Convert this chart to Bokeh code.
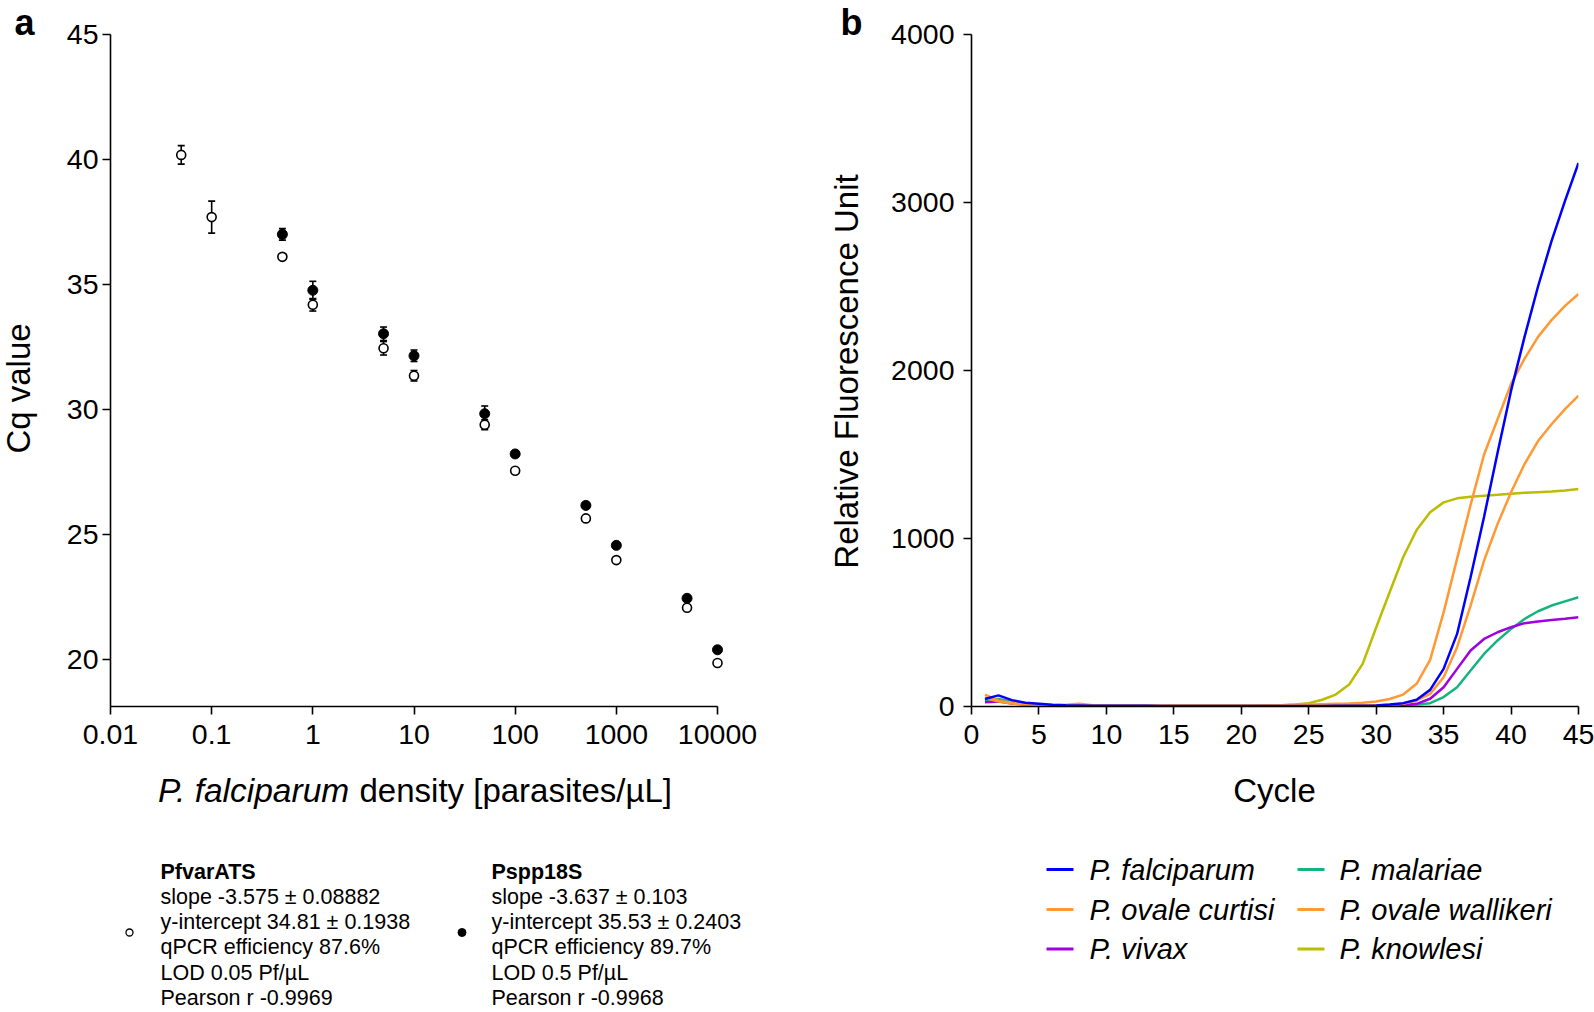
import math
from bokeh.plotting import figure
from bokeh.layouts import column, row
from bokeh.models import ColumnDataSource, Whisker, TeeHead, FixedTicker, Range1d
from bokeh.embed import file_html
from bokeh.resources import INLINE
from bokeh.core.properties import value

FONT = "Liberation Sans"

# ---------------- Panel a data ----------------
density_varats = [0.05, 0.1, 0.5, 1, 5, 10, 50, 100, 500, 1000, 5000, 10000]
pfvarats_cq = [40.18, 37.69, 36.10, 34.18, 32.44, 31.34, 29.38, 27.54, 25.63, 23.96, 22.05, 19.84]
pfvarats_sd = [0.37, 0.64, 0.12, 0.25, 0.27, 0.21, 0.20, 0.10, 0.10, 0.10, 0.10, 0.10]
density_18s = [0.5, 1, 5, 10, 50, 100, 500, 1000, 5000, 10000]
pspp18s_cq = [37.00, 34.76, 33.02, 32.14, 29.82, 28.21, 26.15, 24.55, 22.43, 20.37]
pspp18s_sd = [0.23, 0.36, 0.27, 0.23, 0.31, 0.12, 0.10, 0.10, 0.10, 0.10]
x_ticks_a = [0.01, 0.1, 1, 10, 100, 1000, 10000]
x_tick_labels_a = ["0.01", "0.1", "1", "10", "100", "1000", "10000"]
y_ticks_a = [20, 25, 30, 35, 40, 45]
legend_a_varats = ["slope -3.575 \u00b1 0.08882", "y-intercept 34.81 \u00b1 0.1938",
                   "qPCR efficiency 87.6%", "LOD 0.05 Pf/\u00b5L", "Pearson r -0.9969"]
legend_a_18s = ["slope -3.637 \u00b1 0.103", "y-intercept 35.53 \u00b1 0.2403",
                "qPCR efficiency 89.7%", "LOD 0.5 Pf/\u00b5L", "Pearson r -0.9968"]

# ---------------- Panel b data ----------------
cycles = list(range(1, 46))
falciparum = [45, 66, 38, 22, 16, 10, 7, 6, 5, 5,
              4, 4, 4, 3, 3, 3, 3, 3, 3, 3,
              3, 3, 3, 3, 3, 3, 4, 4, 5, 6,
              12, 20, 40, 99, 224, 432, 769, 1130, 1510, 1880,
              2200, 2500, 2770, 3010, 3235]
ovale_curtisi = [70, 35, 22, 14, 10, 8, 10, 16, 8, 5,
                 4, 4, 4, 4, 4, 4, 4, 5, 5, 5,
                 5, 6, 8, 10, 12, 14, 16, 18, 22, 30,
                 45, 71, 135, 278, 560, 880, 1200, 1500, 1710, 1920,
                 2070, 2200, 2300, 2385, 2455]
ovale_wallikeri = [50, 30, 18, 12, 8, 6, 6, 8, 6, 4,
                   4, 4, 4, 4, 4, 4, 4, 4, 4, 4,
                   4, 4, 5, 5, 5, 6, 6, 6, 7, 8,
                   10, 16, 36, 75, 174, 353, 601, 868, 1086, 1275,
                   1443, 1580, 1680, 1770, 1850]
vivax = [25, 30, 18, 12, 8, 5, 4, 3, 3, 3,
         3, 3, 3, 3, 3, 3, 3, 3, 3, 3,
         3, 3, 3, 3, 3, 3, 3, 4, 4, 5,
         6, 9, 16, 46, 115, 224, 333, 402, 442, 472,
         496, 506, 515, 522, 531]
malariae = [35, 45, 28, 16, 10, 6, 5, 4, 3, 3,
            3, 3, 3, 3, 3, 3, 3, 3, 3, 3,
            3, 3, 3, 3, 3, 3, 3, 3, 4, 4,
            5, 8, 12, 20, 56, 115, 214, 313, 393, 462,
            521, 567, 601, 626, 650]
knowlesi = [40, 35, 20, 12, 8, 5, 4, 3, 3, 3,
            3, 3, 3, 3, 3, 3, 3, 3, 3, 3,
            4, 6, 8, 12, 20, 40, 71, 131, 254, 470,
            680, 888, 1051, 1156, 1215, 1239, 1249, 1255, 1260, 1267,
            1272, 1276, 1280, 1286, 1295]
species_names = ["P. falciparum", "P. ovale curtisi", "P. vivax",
                 "P. malariae", "P. ovale wallikeri", "P. knowlesi"]
species_values = [falciparum, ovale_curtisi, vivax, malariae, ovale_wallikeri, knowlesi]
species_colors = ["#0000ff", "#ff9933", "#a000e0", "#14b47c", "#ff9933", "#bcbc00"]
draw_order = [5, 3, 2, 4, 1, 0]
x_ticks_b = [0, 5, 10, 15, 20, 25, 30, 35, 40, 45]
y_ticks_b = [0, 1000, 2000, 3000, 4000]

# ---------------- layout constants (page pixels) ----------------
TOP_H = 760           # top row: y 0..760 ; frames span 0..706 (axes drawn 34..706)
BOT_H = 250           # bottom row: y 760..1010
AX_TOP, AX_BOTTOM = 34, 706
FRAME_BOTTOM_BORDER = TOP_H - AX_BOTTOM
SA_W = 60             # strip left of panel a: x 0..60
PA_W = 740            # panel a figure: x 60..800
SB_W = 80             # strip left of panel b: x 800..880
PB_W = 714            # panel b figure: x 880..1594
A_FRAME_W = 615       # 607 px for 0.01..10000 plus 8 px head room
B_FRAME_W = 607
Y_A_MIN, Y_A_MAX = 18.1, 45.0
PX_PER_CQ = (AX_BOTTOM - AX_TOP) / (Y_A_MAX - Y_A_MIN)
Y_A_TOP = Y_A_MAX + AX_TOP / PX_PER_CQ           # frame extends above the axis end
Y_B_MAX = 4000
Y_B_TOP = Y_B_MAX + AX_TOP * Y_B_MAX / (AX_BOTTOM - AX_TOP)
X_A_MAX = 10000 * 10 ** (8 * 6 / 607)


def style_axis(ax, standoff):
    ax.axis_line_width = 1.6
    ax.axis_line_color = "black"
    ax.major_tick_line_width = 1.6
    ax.major_tick_line_color = "black"
    ax.major_tick_out = 8
    ax.major_tick_in = 0
    ax.minor_tick_out = 0
    ax.minor_tick_in = 0
    ax.major_label_text_font = FONT
    ax.major_label_text_font_size = "28.5px"
    ax.major_label_text_color = "black"
    ax.major_label_standoff = standoff


def base_fig(w, h, **kw):
    p = figure(width=w, height=h, toolbar_location=None, output_backend="svg", **kw)
    p.outline_line_color = None
    p.xgrid.visible = False
    p.ygrid.visible = False
    p.background_fill_color = "white"
    p.border_fill_color = "white"
    return p


def canvas(x0, w, y0, h, bottom_border=0):
    """A blank figure whose data coordinates are page pixels (y downwards)."""
    p = base_fig(w, h, x_range=Range1d(x0, x0 + w), y_range=Range1d(y0 + h - bottom_border, y0),
                 x_axis_location=None, y_axis_location=None, min_border=0)
    p.min_border_bottom = bottom_border
    return p


def put_text(p, x, y, txt, size, style="normal", align="left", baseline="middle", angle=0.0):
    p.text(x=[x], y=[y], text=[txt], text_font=value(FONT), text_font_size=size,
           text_font_style=style, text_align=align, text_baseline=baseline,
           angle=angle, text_color="black")

# ---------------- Panel a ----------------
pa = base_fig(PA_W, TOP_H, x_axis_type="log",
              x_range=Range1d(0.01, X_A_MAX), y_range=Range1d(Y_A_MIN, Y_A_TOP),
              min_border_left=110 - SA_W, min_border_right=PA_W - (110 - SA_W) - A_FRAME_W,
              min_border_top=0, min_border_bottom=FRAME_BOTTOM_BORDER)
style_axis(pa.xaxis[0], 10)
style_axis(pa.yaxis[0], 4)
pa.xaxis.ticker = FixedTicker(ticks=x_ticks_a, minor_ticks=[])
pa.xaxis.major_label_overrides = dict(zip(x_ticks_a, x_tick_labels_a))
pa.xaxis.bounds = (x_ticks_a[0], x_ticks_a[-1])
pa.yaxis.ticker = FixedTicker(ticks=y_ticks_a, minor_ticks=[])
pa.yaxis.bounds = (Y_A_MIN, Y_A_MAX)

src_v = ColumnDataSource(dict(x=density_varats, y=pfvarats_cq,
                              lo=[c - s for c, s in zip(pfvarats_cq, pfvarats_sd)],
                              hi=[c + s for c, s in zip(pfvarats_cq, pfvarats_sd)]))
src_s = ColumnDataSource(dict(x=density_18s, y=pspp18s_cq,
                              lo=[c - s for c, s in zip(pspp18s_cq, pspp18s_sd)],
                              hi=[c + s for c, s in zip(pspp18s_cq, pspp18s_sd)]))
for src in (src_v, src_s):
    w = Whisker(source=src, base="x", lower="lo", upper="hi", dimension="height",
                line_width=1.6, line_color="black", level="underlay",
                upper_head=TeeHead(size=7, line_width=1.6, line_color="black"),
                lower_head=TeeHead(size=7, line_width=1.6, line_color="black"))
    pa.add_layout(w)
pa.scatter("x", "y", source=src_s, marker="circle", size=10,
           fill_color="black", line_color="black", line_width=1)
pa.scatter("x", "y", source=src_v, marker="circle", size=9,
           fill_color="white", line_color="black", line_width=1.6)

# strip left of panel a: panel letter and y title
sa = canvas(0, SA_W, 0, TOP_H, FRAME_BOTTOM_BORDER)
put_text(sa, 14, 22, "a", "36px", style="bold")
put_text(sa, 18, 388, "Cq value", "33px", align="center", angle=math.pi / 2)

# ---------------- Panel b ----------------
pb = base_fig(PB_W, TOP_H, x_range=Range1d(0, 45), y_range=Range1d(0, Y_B_TOP),
              min_border_left=971 - 880, min_border_right=PB_W - (971 - 880) - B_FRAME_W,
              min_border_top=0, min_border_bottom=FRAME_BOTTOM_BORDER)
style_axis(pb.xaxis[0], 10)
style_axis(pb.yaxis[0], 9)
pb.xaxis.ticker = FixedTicker(ticks=x_ticks_b, minor_ticks=[])
pb.yaxis.ticker = FixedTicker(ticks=y_ticks_b, minor_ticks=[])
pb.yaxis.bounds = (0, Y_B_MAX)
for i in draw_order:
    pb.line(cycles, species_values[i], line_color=species_colors[i], line_width=2.5)

sb = canvas(800, SB_W, 0, TOP_H, FRAME_BOTTOM_BORDER)
put_text(sb, 840, 22, "b", "36px", style="bold")
put_text(sb, 846, 371, "Relative Fluorescence Unit", "33px", align="center", angle=math.pi / 2)

# ---------------- bottom row: x titles and legends ----------------
la = canvas(0, 800, TOP_H, BOT_H)
put_text(la, 157.5, 790, "P. falciparum", "33.5px", style="italic")
put_text(la, 359, 790, "density [parasites/\u00b5L]", "33px")
row_y = [871, 896.5, 921.5, 946.5, 972, 997]
for col_x, title, lines, filled, mx in ((160, "PfvarATS", legend_a_varats, False, 129),
                                         (491, "Pspp18S", legend_a_18s, True, 461.5)):
    put_text(la, col_x, row_y[0], title, "21.5px", style="bold")
    la.text(x=[col_x] * len(lines), y=row_y[1:], text=lines, text_font=value(FONT),
            text_font_size="21.5px", text_baseline="middle", text_align="left", text_color="black")
    la.scatter(x=[mx], y=[932], marker="circle", size=8 if filled else 7,
               fill_color="black" if filled else "white", line_color="black",
               line_width=1 if filled else 1.3)

lb = canvas(800, PB_W + SB_W, TOP_H, BOT_H)
put_text(lb, 1274, 790, "Cycle", "33px", align="center")
leg_rows = [869, 909, 948.5]
leg_cols = [(1046, 1073, 1089), (1297, 1324, 1339)]
for k, name in enumerate(species_names):
    c0, c1, tx = leg_cols[k // 3]
    yy = leg_rows[k % 3]
    lb.segment(x0=[c0], y0=[yy], x1=[c1], y1=[yy], line_color=species_colors[k], line_width=3)
    put_text(lb, tx, yy, name, "29px", style="italic")

layout = column(row(sa, pa, sb, pb), row(la, lb))
open("out.html", "w").write(file_html(layout, INLINE))
